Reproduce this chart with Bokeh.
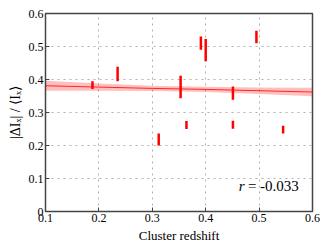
import numpy as np
from bokeh.plotting import figure
from bokeh.models import Label, Range1d, FixedTicker
from bokeh.embed import file_html
from bokeh.resources import INLINE

# data: cluster redshift, fractional intensity change and its error
redshift = [0.188, 0.235, 0.312, 0.353, 0.364, 0.391, 0.400, 0.451, 0.451, 0.495, 0.545]
ratio    = [0.383, 0.417, 0.218, 0.377, 0.262, 0.510, 0.489, 0.359, 0.263, 0.529, 0.248]
ratio_err = [0.012, 0.022, 0.018, 0.034, 0.012, 0.020, 0.034, 0.020, 0.012, 0.019, 0.012]

# linear fit and its confidence band
fit_x = [0.1, 0.2, 0.3, 0.4, 0.5, 0.6]
fit_y = [0.381, 0.377, 0.373, 0.370, 0.366, 0.362]
fit_halfwidth = [0.015, 0.011, 0.008, 0.008, 0.010, 0.013]

x_ticks = [0.1, 0.2, 0.3, 0.4, 0.5, 0.6]
y_ticks = [0.0, 0.1, 0.2, 0.3, 0.4, 0.5, 0.6]
r_text = "= -0.033"

SERIF = "Liberation Serif"

p = figure(width=327, height=245, output_backend="svg", toolbar_location=None,
           x_range=Range1d(0.1, 0.6), y_range=Range1d(0.0, 0.6),
           min_border_left=45, min_border_right=15, min_border_top=13, min_border_bottom=34)

lo = np.array(ratio) - np.array(ratio_err)
hi = np.array(ratio) + np.array(ratio_err)
fy = np.array(fit_y)
fh = np.array(fit_halfwidth)

p.varea(x=fit_x, y1=fy - fh, y2=fy + fh, fill_color="#ff0000", fill_alpha=0.25)
p.line(fit_x, fit_y, line_color="#ff0000", line_width=1, line_alpha=0.8)
p.segment(x0=redshift, y0=lo, x1=redshift, y1=hi, line_color="#ff0000", line_width=2.5)

for ax in (p.xaxis[0], p.yaxis[0]):
    ax.major_label_text_font = SERIF
    ax.major_label_text_font_size = "12px"
    ax.major_label_text_color = "black"
    ax.axis_label_text_font = SERIF
    ax.axis_label_text_font_size = "13px"
    ax.axis_label_text_font_style = "normal"
    ax.axis_label_text_color = "black"
    ax.axis_line_color = "#444444"
    ax.major_tick_line_color = "#444444"
    ax.major_tick_in = 4
    ax.major_tick_out = 0
    ax.minor_tick_line_color = None
    ax.major_label_standoff = 2
    ax.axis_label_standoff = 3

p.yaxis.axis_label_text_font_size = "14px"
p.xaxis.ticker = FixedTicker(ticks=x_ticks)
p.yaxis.ticker = FixedTicker(ticks=y_ticks)
p.xaxis.axis_label = "Cluster redshift"
p.yaxis.axis_label = "|ΔIₓ| / ⟨Iₓ⟩"

p.grid.grid_line_color = "#b0b0b0"
p.grid.grid_line_dash = "dotted"
p.outline_line_color = "#444444"
p.outline_line_width = 1.5
p.background_fill_color = "white"

p.add_layout(Label(x=0.462, y=0.052, text="r", text_font=SERIF, text_font_size="15px",
                   text_font_style="italic", text_color="black"))
p.add_layout(Label(x=0.479, y=0.052, text=r_text, text_font=SERIF, text_font_size="15px",
                   text_color="black"))

open("out.html", "w").write(file_html(p, INLINE))
